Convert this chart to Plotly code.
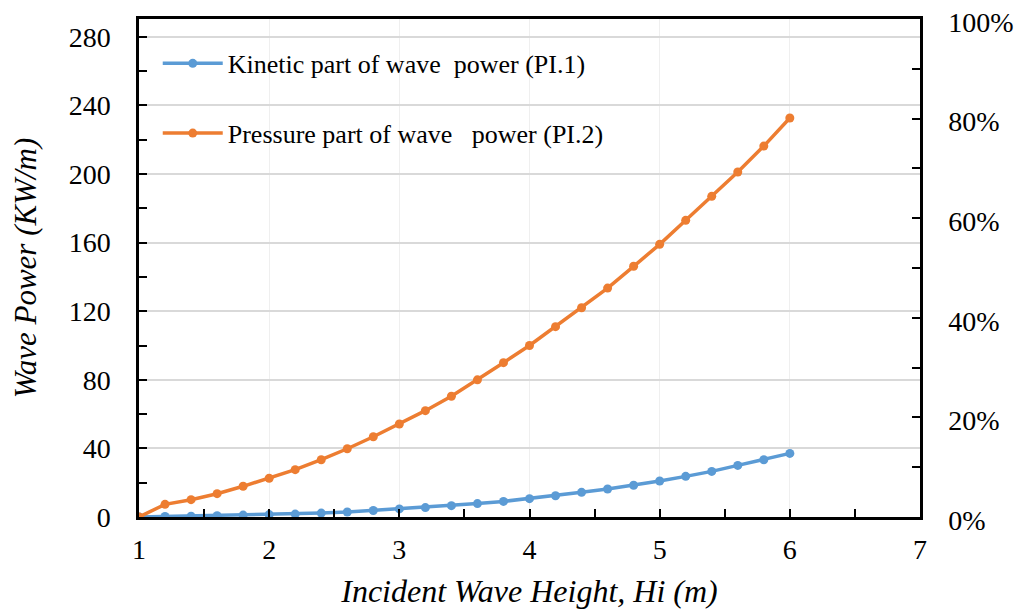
import plotly.graph_objects as go

wave_height = [1.0, 1.2, 1.4, 1.6, 1.8, 2.0, 2.2, 2.4, 2.6, 2.8, 3.0, 3.2, 3.4, 3.6, 3.8,
               4.0, 4.2, 4.4, 4.6, 4.8, 5.0, 5.2, 5.4, 5.6, 5.8, 6.0]
kinetic_power = [0.0, 0.3, 0.5, 0.8, 1.1, 1.4, 1.7, 2.3, 2.9, 3.8, 4.7, 5.5, 6.6, 7.8, 9.1,
                 10.7, 12.4, 14.4, 16.3, 18.5, 21.0, 23.7, 26.6, 30.1, 33.4, 37.1]
pressure_power = [0.0, 7.4, 10.1, 13.6, 17.9, 22.6, 27.6, 33.4, 39.8, 46.8, 54.2, 62.0, 70.4,
                  80.0, 90.0, 100.0, 111.0, 122.0, 133.5, 146.2, 159.0, 173.0, 187.0, 201.2,
                  216.3, 232.7]
kinetic_name = "Kinetic part of wave  power (PI.1)"
pressure_name = "Pressure part of wave   power (PI.2)"

BLUE = "#5B9BD5"
ORANGE = "#ED7D31"
FONT = "Liberation Serif, Times New Roman, serif"

fig = go.Figure()
fig.add_trace(go.Scatter(x=wave_height, y=kinetic_power, name=kinetic_name.replace("  ", "&nbsp; "),
                         mode="lines+markers", line=dict(color=BLUE, width=3.5),
                         marker=dict(size=9, color=BLUE), legendgroup="a"))
fig.add_trace(go.Scatter(x=wave_height, y=pressure_power, name=pressure_name.replace("   ", "&nbsp; &nbsp;"),
                         mode="lines+markers", line=dict(color=ORANGE, width=3.5),
                         marker=dict(size=9, color=ORANGE), legendgroup="b"))
# invisible trace to carry the secondary axis
fig.add_trace(go.Scatter(x=[wave_height[0]], y=[0], yaxis="y2", mode="markers",
                         marker=dict(opacity=0), showlegend=False, hoverinfo="skip"))

fig.update_layout(
    width=1025, height=616,
    margin=dict(l=131, r=113, t=11, b=107, autoexpand=False),
    paper_bgcolor="white", plot_bgcolor="white",
    font=dict(family=FONT, size=28, color="black"),
    showlegend=True,
    legend=dict(x=0.024, y=0.958, xanchor="left", yanchor="top",
                font=dict(family=FONT, size=26, color="black"),
                bgcolor="rgba(0,0,0,0)", tracegroupgap=33, traceorder="grouped",
                itemwidth=60),
    xaxis=dict(range=[1, 7], dtick=1, tick0=1, showgrid=True, gridcolor="#efefef", gridwidth=1,
               showline=True, linecolor="black", linewidth=2.5, mirror=True, automargin=False,
               ticks="inside", ticklen=8, tickwidth=2, tickcolor="black", ticklabelstandoff=6,
               ticklabeloverflow="allow",
               minor=dict(dtick=0.5, ticks="inside", ticklen=8, tickwidth=2, tickcolor="black", showgrid=False),
               zeroline=False, tickfont=dict(size=28),
               title=dict(text="<i>Incident Wave Height, Hi (m)</i>", font=dict(size=32), standoff=16)),
    yaxis=dict(range=[0, 290.4], dtick=40, tick0=0, showgrid=True, gridcolor="#d9d9d9", gridwidth=1.5,
               showline=True, linecolor="black", linewidth=2.5, automargin=False,
               ticks="inside", ticklen=8, tickwidth=2, tickcolor="black", ticklabelstandoff=20,
               ticklabeloverflow="allow",
               minor=dict(dtick=20, ticks="inside", ticklen=8, tickwidth=2, tickcolor="black", showgrid=False),
               zeroline=False, tickfont=dict(size=28),
               title=dict(text="<i>Wave Power (KW/m)</i>", font=dict(size=31), standoff=24)),
    yaxis2=dict(range=[0, 1], overlaying="y", side="right", dtick=0.2, tickformat=".0%",
                showgrid=False, showline=True, linecolor="black", linewidth=2.5, automargin=False,
                ticks="inside", ticklen=8, tickwidth=2, tickcolor="black", ticklabelstandoff=20,
                ticklabeloverflow="allow", ticklabelshift=3,
                minor=dict(dtick=0.1, ticks="inside", ticklen=8, tickwidth=2, tickcolor="black"),
                zeroline=False, tickfont=dict(size=28)),
)

fig.write_html("out.html")
